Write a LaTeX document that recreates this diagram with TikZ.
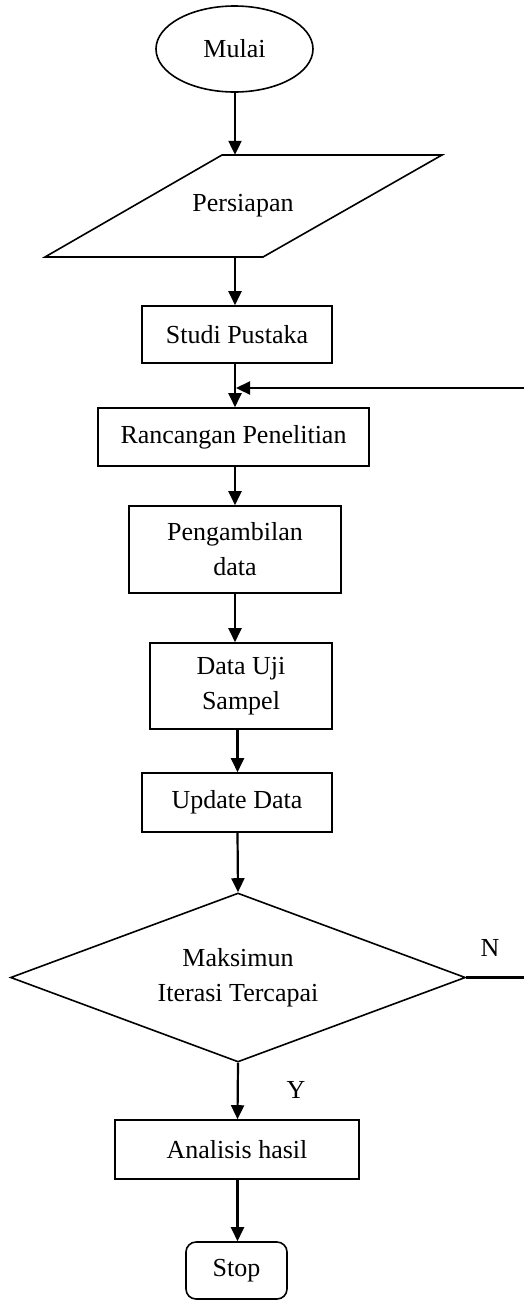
\documentclass[tikz,border=0pt]{standalone}
\usepackage{fontspec}
\setmainfont{Liberation Serif}
\usetikzlibrary{shapes.geometric,arrows.meta}
\begin{document}
\begin{tikzpicture}[x=1pt,y=-1pt,
  every node/.style={font=\fontsize{26}{35}\selectfont, inner sep=0pt, align=center},
  box/.style={draw, line width=1.6pt, rectangle},
  arr/.style={line width=2.2pt, -{Triangle[length=14pt,width=13pt]}},
  plain/.style={line width=2.2pt}]
\useasboundingbox (0,0) rectangle (524,1302);
% nodes
\node[draw, line width=1.6pt, ellipse, minimum width=157pt, minimum height=86pt] (mulai) at (234.5,49) {Mulai};
\draw[line width=1.6pt] (222,155) -- (442,155) -- (263,257) -- (45,257) -- cycle;
\node[minimum height=102pt, minimum width=120pt] (prep) at (243,206) {Persiapan};
\node[box, minimum width=190pt, minimum height=57pt] (studi) at (237,334.5) {Studi Pustaka};
\node[box, minimum width=271pt, minimum height=58pt] (ranc) at (233.5,437) {Rancangan Penelitian};
\node[box, minimum width=212pt, minimum height=87pt] (peng) at (235,549.5) {Pengambilan\\data};
\node[box, minimum width=182pt, minimum height=86pt] (uji) at (241,686) {Data Uji\\Sampel};
\node[box, minimum width=190pt, minimum height=59pt] (upd) at (237,802.5) {Update Data};
\node[draw, line width=1.6pt, diamond, aspect=2.714, minimum width=455pt, minimum height=169pt] (dec) at (238,977.5) {Maksimun\\Iterasi Tercapai};
\node[box, minimum width=244pt, minimum height=59pt] (anal) at (237,1149.5) {Analisis hasil};
\node[draw, line width=1.6pt, rounded corners=10pt, minimum width=101pt, minimum height=57pt] (stop) at (236.5,1270.5) {Stop};
\node (nlab) at (490,948) {N};
\node (ylab) at (296,1090) {Y};
% columns
\coordinate (c1) at (235,0);
\coordinate (c2) at (237.5,0);
\coordinate (rin) at (524,388);
\coordinate (nout) at (524,977.5);
% connectors
\draw[arr] (mulai.south -| c1) -- (prep.north -| c1);
\draw[arr] (prep.south -| c1) -- (studi.north -| c1);
\draw[arr] (studi.south -| c1) -- (ranc.north -| c1);
\draw[arr] (rin) -- ([xshift=1pt]rin -| c1);
\draw[arr] (ranc.south -| c1) -- (peng.north -| c1);
\draw[arr] (peng.south -| c1) -- (uji.north -| c1);
\draw[arr] (uji.south -| c2) -- (upd.north -| c2);
\draw[arr] (upd.south -| c2) -- (dec.north);
\draw[plain] (dec.east) -- (nout);
\draw[arr] (dec.south) -- (anal.north -| c2);
\draw[arr] (anal.south -| c2) -- (stop.north -| c2);
\end{tikzpicture}
\end{document}
